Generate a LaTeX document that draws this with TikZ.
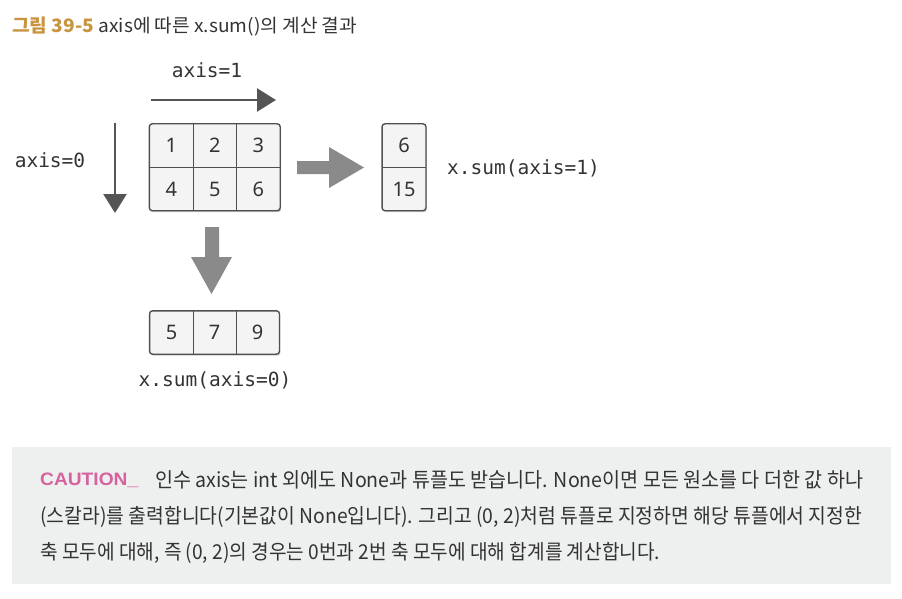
\documentclass[tikz,border=0pt]{standalone}
\usepackage{fontspec}
\usepackage{graphicx}
\setmainfont{Noto Sans}
\newfontfamily\krf{Noto Sans CJK KR}
\newfontfamily\monof{DejaVu Sans Mono}
\newfontfamily\numf{Noto Sans}
\newfontfamily\capf{Liberation Sans}
\usetikzlibrary{arrows.meta,fit,backgrounds,shadows}
\definecolor{txt}{HTML}{333333}
\definecolor{gold}{HTML}{C9943F}
\definecolor{pinkc}{HTML}{D6629E}
\definecolor{edge}{HTML}{505050}
\definecolor{cellfill}{HTML}{F4F4F4}
\definecolor{arrowdark}{HTML}{555555}
\definecolor{arrowbig}{HTML}{8A8A8A}
\definecolor{cautionbg}{HTML}{EEEFEF}
\tikzset{
  cell/.style={minimum width=43.5pt, minimum height=43pt, inner sep=0pt,
    font=\numf\fontsize{20}{24}\selectfont, text=txt},
  frame/.style={draw=edge, line width=1.4pt, fill=cellfill, rounded corners=3pt,
    inner sep=0pt, drop shadow={shadow xshift=1pt, shadow yshift=-1.5pt, fill=black, opacity=0.2}},
  sepline/.style={draw=edge, line width=1.4pt},
  code/.style={font=\monof\fontsize{19.5}{23}\selectfont, text=txt, inner sep=0pt},
  thinarrow/.style={draw=arrowdark, line width=2.5pt, -{Triangle[length=19pt, width=23pt]}},
  bigarrow/.style={fill=arrowbig},
  ctext/.style={anchor=west, inner sep=0pt, text=txt, font=\krf\fontsize{20.5}{24}\selectfont}
}
\begin{document}
\begin{tikzpicture}[x=1pt, y=-1pt]
\useasboundingbox (0,0) rectangle (902,599);

% title
\node[anchor=west, inner sep=0pt] (title) at (12,27)
  {\resizebox{345pt}{\height}{\krf\fontsize{18.5}{22}\selectfont{\bfseries\color{gold}그림 39-5} \color{txt}axis에 따른 x.sum()의 계산 결과}};

% labels
\node[code] (ax1) at (207,70) {axis=1};
\node[code] (ax0) at (50,160) {axis=0};

% thin arrows
\coordinate (h0) at (151,100);
\coordinate (h1) at (276,100);
\coordinate (v0) at (115,123);
\coordinate (v1) at (115,213);
\draw[thinarrow] (h0) -- (h1);
\draw[thinarrow] (v0) -- (v1);

% matrix
\node[cell] (m11) at (171.25,145.5) {1};
\node[cell] (m12) at (214.75,145.5) {2};
\node[cell] (m13) at (258.25,145.5) {3};
\node[cell] (m21) at (171.25,189) {4};
\node[cell] (m22) at (214.75,189) {5};
\node[cell] (m23) at (258.25,189) {6};

% column result
\node[cell] (r1) at (404,145.5) {6};
\node[cell] (r2) at (404,189) {15};

% row result
\node[cell] (c1) at (171.5,332.5) {5};
\node[cell] (c2) at (214.5,332.5) {7};
\node[cell] (c3) at (257.5,332.5) {9};

\begin{scope}[on background layer]
  \node[frame, fit=(m11)(m23)] (mat) {};
  \node[frame, fit=(r1)(r2)] (rcol) {};
  \node[frame, fit=(c1)(c3)] (crow) {};
\end{scope}
\draw[sepline] (m11.north east) -- (m21.south east);
\draw[sepline] (m12.north east) -- (m22.south east);
\draw[sepline] (m11.south west) -- (m13.south east);
\draw[sepline] (r1.south west) -- (r1.south east);
\draw[sepline] (c1.north east) -- (c1.south east);
\draw[sepline] (c2.north east) -- (c2.south east);

% big arrows
\fill[bigarrow] (297,161) -- (329,161) -- (329,147) -- (364,167.5) -- (329,188) -- (329,174) -- (297,174) -- cycle;
\fill[bigarrow] (205,227) -- (219,227) -- (219,257) -- (232,257) -- (211.5,294) -- (191,257) -- (205,257) -- cycle;

\node[code] (s1) at (523.5,168) {x.sum(axis=1)};
\node[code] (s0) at (215,380) {x.sum(axis=0)};

% caution box
\fill[cautionbg] (12,447) rectangle (891,584);
\node[ctext] (cap) at (40,480) {\resizebox{98pt}{\height}{\capf\bfseries\fontsize{18}{20}\selectfont\color{pinkc}CAUTION\_}};
\node[ctext] (l1) at (155,480) {\resizebox{708pt}{\height}{인수 axis는 int 외에도 None과 튜플도 받습니다. None이면 모든 원소를 다 더한 값 하나}};
\node[ctext] (l2) at (40,517) {\resizebox{822pt}{\height}{(스칼라)를 출력합니다(기본값이 None입니다). 그리고 (0, 2)처럼 튜플로 지정하면 해당 튜플에서 지정한}};
\node[ctext] (l3) at (40,553) {\resizebox{620pt}{\height}{축 모두에 대해, 즉 (0, 2)의 경우는 0번과 2번 축 모두에 대해 합계를 계산합니다.}};
\end{tikzpicture}
\end{document}
